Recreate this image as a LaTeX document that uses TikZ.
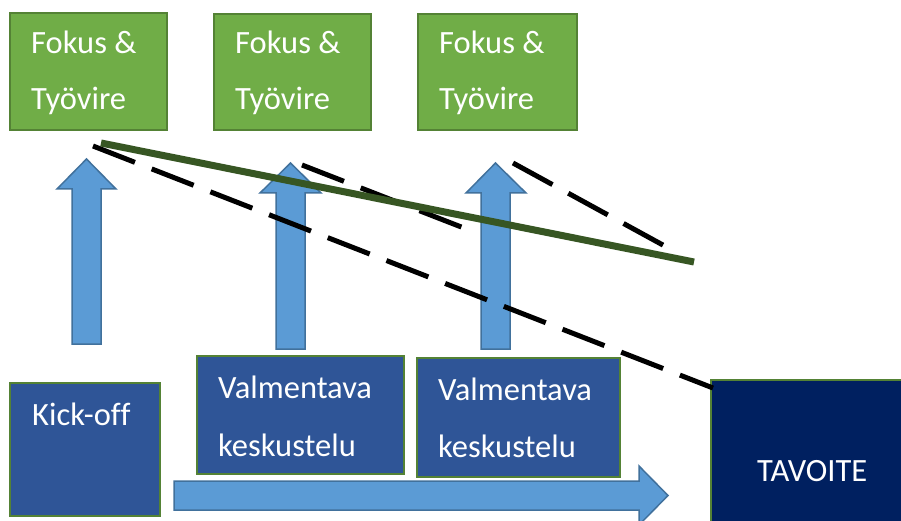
\documentclass[tikz,border=0pt]{standalone}
\usepackage{fontspec}
\setmainfont[Ligatures=NoCommon]{Carlito}
\definecolor{gfill}{HTML}{70AD47}
\definecolor{gline}{HTML}{548235}
\definecolor{bfill}{HTML}{2F5597}
\definecolor{tfill}{HTML}{002060}
\definecolor{afill}{HTML}{5B9BD5}
\definecolor{aline}{HTML}{41719C}
\definecolor{dgreen}{HTML}{375623}
\begin{document}
\begin{tikzpicture}[x=1pt,y=-1pt,
  gbox/.style={draw=gline,line width=2pt,fill=gfill},
  bbox/.style={draw=gline,line width=2pt,fill=bfill},
  tbox/.style={draw=gline,line width=2pt,fill=tfill},
  lbl/.style={anchor=base west,inner sep=0pt,text=white,font=\fontsize{32.5}{38}\selectfont},
  blk/.style={draw=aline,line width=1.5pt,fill=afill,line join=miter},
  dsh/.style={line width=5pt,dash pattern=on 45pt off 18pt},
  grn/.style={draw=dgreen,line width=7pt}]
\useasboundingbox (0,0) rectangle (901,521);
\fill[white] (0,0) rectangle (901,521);
% green boxes
\draw[gbox] (10,13) rectangle (167,130);
\draw[gbox] (214,14) rectangle (371,130);
\draw[gbox] (418,14) rectangle (577,130);
\node[lbl] (g1a) at (31,54) {Fokus \&};
\node[lbl] (g1b) at (31,110) {Työvire};
\node[lbl] (g2a) at (235,54) {Fokus \&};
\node[lbl] (g2b) at (235,110) {Työvire};
\node[lbl] (g3a) at (439,54) {Fokus \&};
\node[lbl] (g3b) at (439,110) {Työvire};
% bottom boxes
\draw[bbox] (10,383) rectangle (160,516);
\draw[bbox] (197,356) rectangle (404,474);
\draw[bbox] (417,358) rectangle (620,477);
\draw[tbox] (711,380) rectangle (910,530);
\node[lbl] (ko) at (32,425) {Kick-off};
\node[lbl] (v1a) at (218,398) {Valmentava};
\node[lbl] (v1b) at (218,456) {keskustelu};
\node[lbl] (v2a) at (438,400) {Valmentava};
\node[lbl] (v2b) at (438,457) {keskustelu};
\node[lbl] (tv) at (757,481) {TAVOITE};
% block arrows
\draw[blk] (72,344) -- (72,189) -- (57,189) -- (86.5,159) -- (116,189) -- (101,189) -- (101,344) -- cycle;
\draw[blk] (276,349) -- (276,193) -- (260,193) -- (290.5,163) -- (321,193) -- (305,193) -- (305,349) -- cycle;
\draw[blk] (481,349) -- (481,193) -- (466,193) -- (495.5,163) -- (526,193) -- (510,193) -- (510,349) -- cycle;
\draw[blk] (174,481) -- (639,481) -- (639,466) -- (668,495.5) -- (639,525) -- (639,510) -- (174,510) -- cycle;
% lines
\coordinate (l1s) at (93,146);
\coordinate (l1e) at (713,388);
\coordinate (l2s) at (302,165);
\coordinate (l2e) at (469,230);
\coordinate (l3s) at (513,163);
\coordinate (l3e) at (672,250);
\coordinate (gs) at (101,143);
\coordinate (ge) at (694,262);
\draw[dsh] (l1s) -- (l1e);
\draw[dsh] (l2s) -- (l2e);
\draw[dsh] (l3s) -- (l3e);
\draw[grn] (gs) -- (ge);
\end{tikzpicture}
\end{document}
